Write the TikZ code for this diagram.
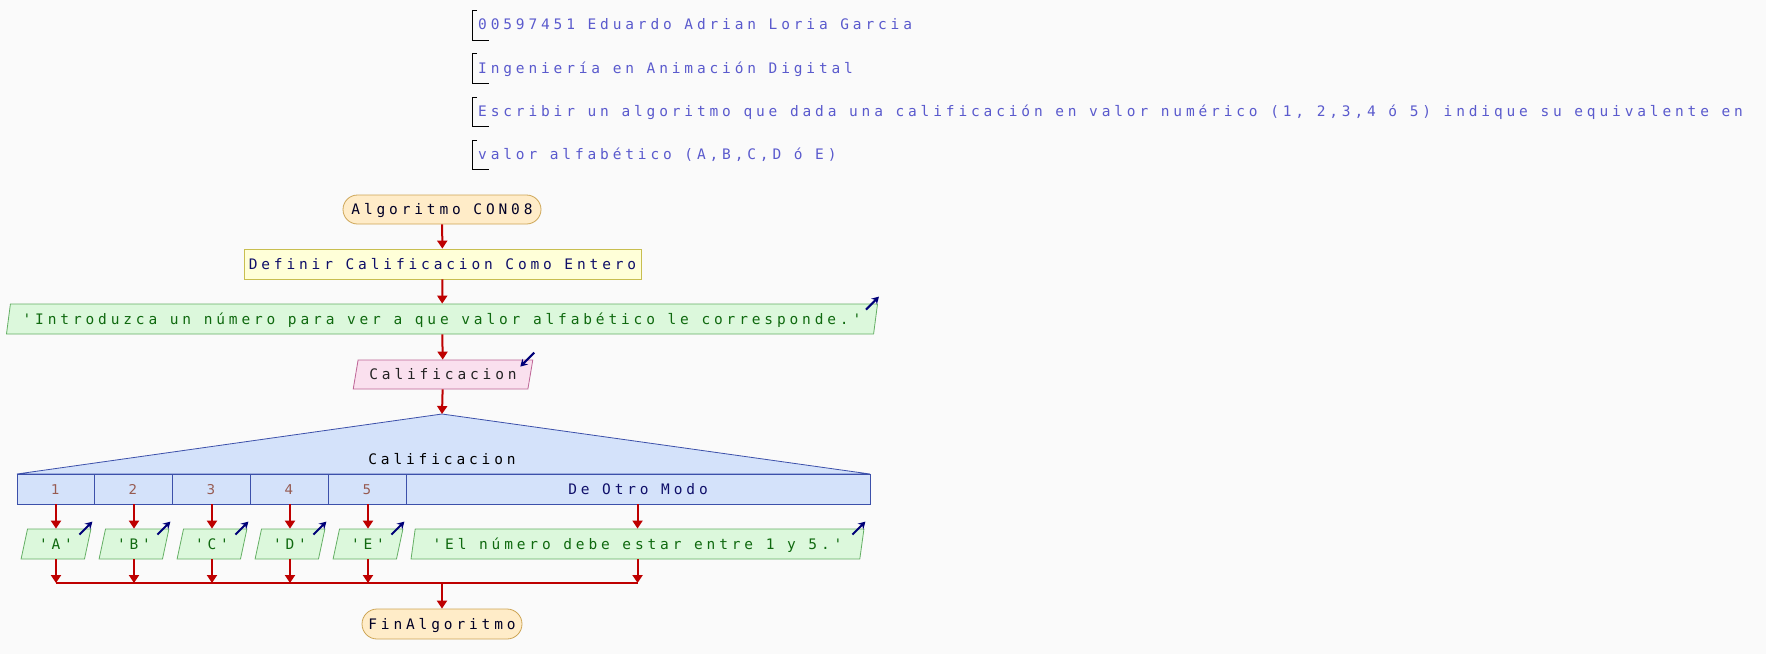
\documentclass[tikz,border=0pt]{standalone}
\usepackage{fontspec}
\setmainfont{DejaVu Sans}
\newfontfamily\pmono[LetterSpace=26.6]{DejaVu Sans Mono}
\newfontfamily\pnum{DejaVu Sans}
\usetikzlibrary{arrows.meta,shapes.geometric}
\definecolor{bgc}{RGB}{250,250,250}
\definecolor{cmtc}{RGB}{90,90,205}
\definecolor{termf}{RGB}{255,236,200}
\definecolor{termd}{RGB}{205,165,85}
\definecolor{procf}{RGB}{255,255,216}
\definecolor{procd}{RGB}{200,190,80}
\definecolor{procc}{RGB}{15,15,105}
\definecolor{outf}{RGB}{220,248,220}
\definecolor{outd}{RGB}{100,175,100}
\definecolor{outc}{RGB}{15,105,15}
\definecolor{inpf}{RGB}{250,224,238}
\definecolor{inpd}{RGB}{190,100,150}
\definecolor{inpc}{RGB}{35,35,35}
\definecolor{swf}{RGB}{212,226,250}
\definecolor{swd}{RGB}{60,80,170}
\definecolor{numc}{RGB}{150,90,80}
\definecolor{flowc}{RGB}{190,0,0}
\definecolor{iconc}{RGB}{0,0,120}
\tikzset{
  base/.style={font=\pmono\fontsize{14.5}{17}\selectfont, inner sep=0pt, text height=10.5, text depth=0pt, align=center},
  term/.style={base, draw=termd, fill=termf, rounded corners=14.5, minimum height=29, line width=0.8, text=black!85!blue},
  proc/.style={base, draw=procd, fill=procf, minimum height=30, line width=0.8, text=procc},
  outp/.style={base, trapezium, trapezium left angle=70, trapezium right angle=110, trapezium stretches=true, draw=outd, fill=outf, minimum height=30, line width=0.8, text=outc},
  inp/.style={base, trapezium, trapezium left angle=68, trapezium right angle=112, trapezium stretches=true, draw=inpd, fill=inpf, minimum height=29, line width=0.8, text=inpc},
  cell/.style={base, draw=swd, fill=swf, minimum height=30, line width=0.8, text=procc},
  numcell/.style={cell, font=\pnum\fontsize{13.5}{16}\selectfont, text=numc},
  cmt/.style={font=\pmono\fontsize{14.5}{17}\selectfont, inner sep=0pt, anchor=base west, text=cmtc},
  brk/.style={draw=black, line width=0.9},
  flow/.style={draw=flowc, line width=2, -{Triangle[width=10,length=8]}},
  line/.style={draw=flowc, line width=2},
  icon/.style={draw=iconc, line width=2, -{Stealth[width=8,length=7]}}
}
\begin{document}
\begin{tikzpicture}[x=1pt,y=-1pt]
\useasboundingbox[fill=bgc] (0,0) rectangle (1766,654);
% comments
\node[cmt] (k1) at (478,29.5) {00597451 Eduardo Adrian Loria Garcia};
\node[cmt] (k2) at (478,73) {Ingeniería en Animación Digital};
\node[cmt] (k3) at (478,116.5) {Escribir un algoritmo que dada una calificación en valor numérico (1, 2,3,4 ó 5) indique su equivalente en};
\node[cmt] (k4) at (478,159.5) {valor alfabético (A,B,C,D ó E)};
\draw[brk] (477,10) -- (472,10) -- (472,40) -- (489,40);
\draw[brk] (477,53) -- (472,53) -- (472,83) -- (489,83);
\draw[brk] (477,97) -- (472,97) -- (472,126) -- (489,126);
\draw[brk] (477,140) -- (472,140) -- (472,169) -- (489,169);
% main flow
\node[term, minimum width=198] (start) at (442,209.5) {Algoritmo CON08};
\node[proc, minimum width=397] (def) at (442.5,264) {Definir Calificacion Como Entero};
\node[outp, minimum width=876] (o1) at (442,319) {'Introduzca un número para ver a que valor alfabético le corresponde.'};
\node[inp, minimum width=180] (in) at (443,374.5) {Calificacion};
% switch
\coordinate (apex) at (442,414);
\coordinate (swl) at (17,474);
\coordinate (swr) at (870,474);
\filldraw[draw=swd, fill=swf, line width=0.8] (apex) -- (swr) -- (swl) -- cycle;
\node[base, text=black] (sw) at (442,459) {Calificacion};
\node[numcell, minimum width=77] (c1) at (55.5,489) {1};
\node[numcell, minimum width=78] (c2) at (133,489) {2};
\node[numcell, minimum width=78] (c3) at (211,489) {3};
\node[numcell, minimum width=78] (c4) at (289,489) {4};
\node[numcell, minimum width=78] (c5) at (367,489) {5};
\node[cell, minimum width=464] (cd) at (638,489) {De Otro Modo};
% case outputs
\node[outp, minimum width=70] (oa) at (56,544) {'A'};
\node[outp, minimum width=70] (ob) at (134,544) {'B'};
\node[outp, minimum width=70] (oc) at (212,544) {'C'};
\node[outp, minimum width=70] (od) at (290,544) {'D'};
\node[outp, minimum width=70] (oe) at (368,544) {'E'};
\node[outp, minimum width=453] (oo) at (637.5,544) {'El número debe estar entre 1 y 5.'};
\node[term, minimum width=160, minimum height=30, rounded corners=15] (fin) at (442,624) {FinAlgoritmo};
% connectors
\draw[flow] (start) -- (def);
\draw[flow] (def) -- (o1);
\draw[flow] (o1) -- (in);
\draw[flow] (in) -- (apex);
\foreach \c/\o in {c1/oa,c2/ob,c3/oc,c4/od,c5/oe,cd/oo}{
  \draw[flow] (\o.north |- \c.south) -- (\o.north);
}
\coordinate (jm) at (442,583);
\coordinate (ja) at (56,583);
\coordinate (jo) at (638,583);
\draw[line] (ja) -- (jo);
\foreach \o in {oa,ob,oc,od,oe,oo}{
  \draw[flow] (\o.south) -- (\o.south |- jm);
}
\draw[flow] (jm) -- (fin);
% icons
\foreach \o in {o1,oa,ob,oc,od,oe,oo}{
  \draw[icon] ([shift={(-12,6)}]\o.top right corner) -- ++(13,-13);
}
\draw[icon] ([shift={(1,-7)}]in.top right corner) -- ++(-14,14);
\end{tikzpicture}
\end{document}
